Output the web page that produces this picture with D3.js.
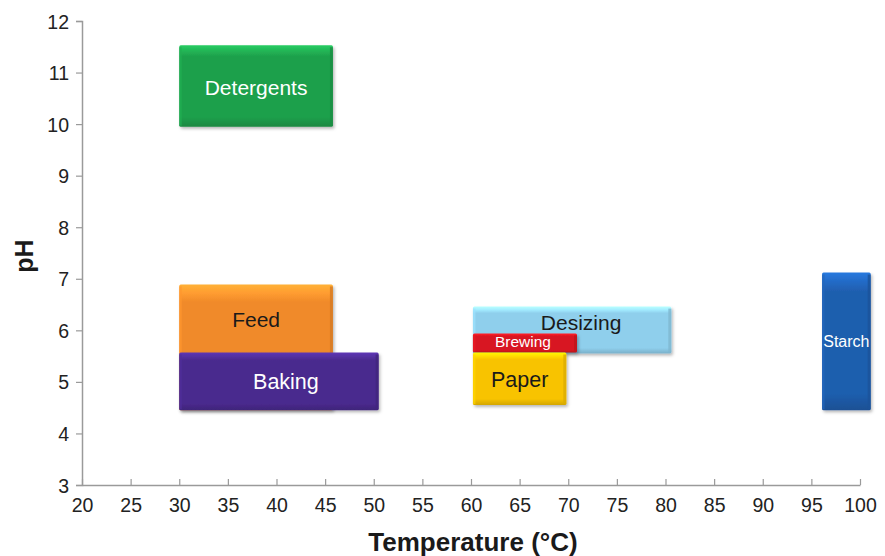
<!DOCTYPE html>
<html>
<head>
<meta charset="utf-8">
<script src="https://cdn.jsdelivr.net/npm/d3@7"></script>
<style>
  html, body { margin: 0; padding: 0; background: #fff; }
  svg { display: block; font-family: "Liberation Sans", Arial, sans-serif; }
</style>
</head>
<body>
<svg id="chart" width="885" height="556"></svg>
<script>
// Application ranges of enzymes: temperature (°C) vs pH
const applications = ["Detergents", "Feed", "Baking", "Desizing", "Brewing", "Paper", "Starch"];
const tempMin = [30, 30, 30, 60.2, 60.2, 60.2, 96.1];
const tempMax = [45.8, 45.8, 50.5, 80.6, 70.9, 69.8, 101.1];
const phMin   = [9.95, 4.45, 4.45, 5.55, 5.57, 4.55, 4.45];
const phMax   = [11.53, 6.89, 5.57, 6.46, 5.94, 5.57, 7.12];

const xTicks = [20, 25, 30, 35, 40, 45, 50, 55, 60, 65, 70, 75, 80, 85, 90, 95, 100];
const yTicks = [3, 4, 5, 6, 7, 8, 9, 10, 11, 12];

// Look of each box
const fills     = ["#1ea04c", "#f08a2a", "#4a2a8e", "#8fcfec", "#d81820", "#f8c300", "#1f5eae"];
const textFill  = ["#ffffff", "#1a1a1a", "#ffffff", "#1a1a1a", "#ffffff", "#1a1a1a", "#ffffff"];
const textSize  = [21, 21, 21.5, 21, 15.5, 21.5, 16];
const labelDx   = [0, 0, 7, 9, -2, 0, 0];
const labelDy   = [2, -28, 1, -8, -1, 1, 0];

const svg = d3.select("#chart");
const margin = { left: 82, right: 25, top: 21, bottom: 71 };
const W = 885, H = 556;

const x = d3.scaleLinear().domain([20, 100]).range([margin.left, W - margin.right]);
const y = d3.scaleLinear().domain([3, 12]).range([H - margin.bottom, margin.top]);

const defs = svg.append("defs");
const shadow = defs.append("filter").attr("id", "shadow")
  .attr("x", "-10%").attr("y", "-10%").attr("width", "130%").attr("height", "140%");
shadow.append("feDropShadow").attr("dx", 1.5).attr("dy", 2).attr("stdDeviation", 1.6)
  .attr("flood-color", "#000").attr("flood-opacity", 0.28);

fills.forEach((c, i) => {
  const base = d3.color(c);
  const g = defs.append("linearGradient").attr("id", "grad" + i)
    .attr("x1", 0).attr("y1", 0).attr("x2", 0).attr("y2", 1);
  g.append("stop").attr("offset", "0%").attr("stop-color", base.brighter(0.7));
  g.append("stop").attr("offset", "7%").attr("stop-color", base.brighter(0.35));
  g.append("stop").attr("offset", "14%").attr("stop-color", base.formatHex());
  g.append("stop").attr("offset", "88%").attr("stop-color", base.formatHex());
  g.append("stop").attr("offset", "100%").attr("stop-color", base.darker(0.45));
});

// Axes
const axisColor = "#9a9a9a";
const yAxis = svg.append("g").attr("transform", `translate(${margin.left},0)`)
  .call(d3.axisLeft(y).tickValues(yTicks).tickSize(6).tickPadding(7).tickFormat(d3.format("d")));
const xAxis = svg.append("g").attr("transform", `translate(0,${H - margin.bottom})`)
  .call(d3.axisBottom(x).tickValues(xTicks).tickSizeInner(-6).tickSizeOuter(0).tickPadding(13).tickFormat(d3.format("d")));

[xAxis, yAxis].forEach(a => {
  a.select(".domain").attr("stroke", axisColor).attr("stroke-width", 1.5);
  a.selectAll(".tick line").attr("stroke", axisColor).attr("stroke-width", 1.2);
  a.selectAll(".tick text").attr("fill", "#222").style("font-size", "19.5px")
    .style("font-family", "'Liberation Sans', Arial, sans-serif");
});
yAxis.selectAll(".tick text").attr("dy", "0.36em");
xAxis.selectAll(".tick text").attr("dy", "0.72em");

// Range boxes
const idx = d3.range(applications.length);
const boxes = svg.append("g").selectAll("g").data(idx).join("g");

boxes.append("rect")
  .attr("x", i => x(tempMin[i]))
  .attr("y", i => y(phMax[i]))
  .attr("width", i => x(tempMax[i]) - x(tempMin[i]))
  .attr("height", i => y(phMin[i]) - y(phMax[i]))
  .attr("rx", 1.5)
  .attr("fill", i => `url(#grad${i})`)
  .attr("filter", "url(#shadow)");

// bevel edges: light left, darker right
boxes.append("rect")
  .attr("x", i => x(tempMax[i]) - 3)
  .attr("y", i => y(phMax[i]) + 2)
  .attr("width", 3)
  .attr("height", i => y(phMin[i]) - y(phMax[i]) - 3)
  .attr("fill", i => d3.color(fills[i]).darker(0.35))
  .attr("opacity", 0.8);
boxes.append("rect")
  .attr("x", i => x(tempMin[i]))
  .attr("y", i => y(phMax[i]) + 2)
  .attr("width", 2.5)
  .attr("height", i => y(phMin[i]) - y(phMax[i]) - 3)
  .attr("fill", i => d3.color(fills[i]).brighter(0.25))
  .attr("opacity", 0.7);

boxes.append("text")
  .attr("x", i => (x(tempMin[i]) + x(tempMax[i])) / 2 + labelDx[i])
  .attr("y", i => (y(phMin[i]) + y(phMax[i])) / 2 + labelDy[i])
  .attr("text-anchor", "middle")
  .attr("dominant-baseline", "central")
  .attr("fill", i => textFill[i])
  .style("font-size", i => textSize[i] + "px")
  .text(i => applications[i]);

// Axis titles
svg.append("text")
  .attr("x", 473)
  .attr("y", 551)
  .attr("text-anchor", "middle")
  .style("font-size", "26px").style("font-weight", "bold")
  .attr("fill", "#1a1a1a")
  .text("Temperature (°C)");

svg.append("text")
  .attr("transform", `translate(33,${(y(3) + y(12)) / 2 + 3}) rotate(-90)`)
  .attr("text-anchor", "middle")
  .style("font-size", "25px").style("font-weight", "bold")
  .attr("fill", "#1a1a1a")
  .text("pH");
</script>
</body>
</html>
